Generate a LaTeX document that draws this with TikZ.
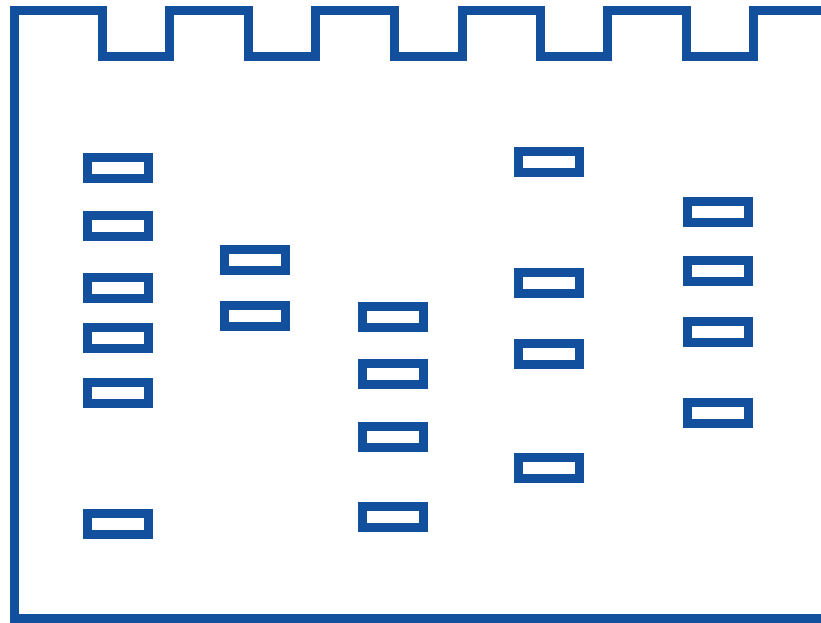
\documentclass[tikz,border=0pt]{standalone}
\usetikzlibrary{positioning}
\definecolor{gelblue}{RGB}{18,80,158}
\tikzset{
  band/.style={draw=gelblue, line width=9pt, rectangle, minimum width=60.5pt, minimum height=21pt, inner sep=0pt, fill=white},
  gel/.style={draw=gelblue, line width=9pt, line join=miter}
}
\begin{document}
\begin{tikzpicture}[x=1pt,y=-1pt]
\useasboundingbox (0,0) rectangle (821,622);
% gel outline with wells
\draw[gel] (840,618) -- (14.5,618) -- (14.5,10) -- (102.5,10) -- (102.5,56) -- (169,56) -- (169,10)
  -- (248,10) -- (248,56) -- (315,56) -- (315,10)
  -- (394,10) -- (394,56) -- (462,56) -- (462,10)
  -- (540,10) -- (540,56) -- (607,56) -- (607,10)
  -- (686,10) -- (686,56) -- (753,56) -- (753,10) -- (840,10);
% lane 1
\node[band] (l1a) at (118,167.7) {};
\node[band] (l1b) at (118,226) {};
\node[band] (l1c) at (118,287.7) {};
\node[band] (l1d) at (118,338) {};
\node[band] (l1e) at (118,393) {};
\node[band] (l1f) at (118,523.5) {};
% lane 2
\node[band] (l2a) at (255,260) {};
\node[band] (l2b) at (255,316) {};
% lane 3
\node[band] (l3a) at (393,316.5) {};
\node[band] (l3b) at (393,374) {};
\node[band] (l3c) at (393,436.7) {};
\node[band] (l3d) at (393,516.7) {};
% lane 4
\node[band] (l4a) at (549,161.7) {};
\node[band] (l4b) at (549,282.7) {};
\node[band] (l4c) at (549,354) {};
\node[band] (l4d) at (549,468) {};
% lane 5
\node[band] (l5a) at (718,211.7) {};
\node[band] (l5b) at (718,270.7) {};
\node[band] (l5c) at (718,331.7) {};
\node[band] (l5d) at (718,412.7) {};
\end{tikzpicture}
\end{document}
